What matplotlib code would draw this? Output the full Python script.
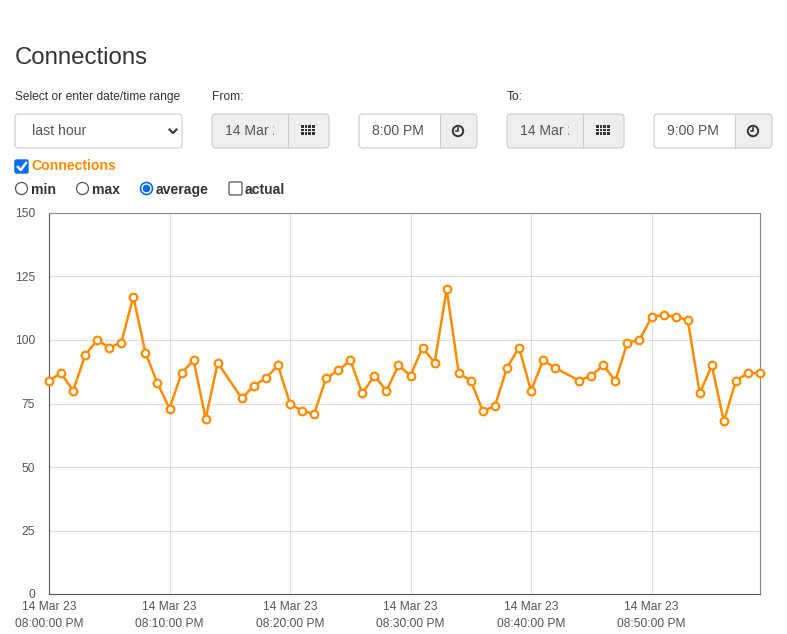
import numpy as np
import matplotlib.pyplot as plt
from matplotlib.patches import FancyBboxPatch, Rectangle, Circle
from matplotlib.lines import Line2D

# minutes after 8:00 PM (two missing samples: 15 and 43)
minutes = [0, 1, 2, 3, 4, 5, 6, 7, 8, 9, 10, 11, 12, 13, 14,
           16, 17, 18, 19, 20, 21, 22, 23, 24, 25, 26, 27, 28, 29,
           30, 31, 32, 33, 34, 35, 36, 37, 38, 39, 40, 41, 42,
           44, 45, 46, 47, 48, 49, 50, 51, 52, 53, 54, 55, 56, 57, 58, 59]
connections = [84, 87, 80, 94, 100, 97, 99, 117, 95, 83, 73, 87, 92, 69, 91,
               77, 82, 85, 90, 75, 72, 71, 85, 88, 92, 79, 86, 80, 90,
               86, 97, 91, 120, 87, 84, 72, 74, 89, 97, 80, 92, 89,
               84, 86, 90, 84, 99, 100, 109, 110, 109, 108, 79, 90, 68, 84, 87, 87]
y_ticks = [0, 25, 50, 75, 100, 125, 150]
x_ticks = [0, 10, 20, 30, 40, 50]
x_labels = ['14 Mar 23\n08:00:00 PM', '14 Mar 23\n08:10:00 PM', '14 Mar 23\n08:20:00 PM',
            '14 Mar 23\n08:30:00 PM', '14 Mar 23\n08:40:00 PM', '14 Mar 23\n08:50:00 PM']

W, H = 787, 634
PX = 0.72  # points per pixel at dpi 100
plt.rcParams['font.family'] = ['Liberation Sans', 'DejaVu Sans']
TXT = '#333333'

fig = plt.figure(figsize=(W / 100, H / 100), dpi=100)

# page overlay in pixel coordinates
ui = fig.add_axes([0, 0, 1, 1])
ui.set_xlim(0, W)
ui.set_ylim(H, 0)
ui.axis('off')


def box(x0, x1, y0, y1, fc='white', ec='#cccccc', r=4, lw=0.8):
    p = FancyBboxPatch((x0 + r, y0 + r), x1 - x0 - 2 * r, y1 - y0 - 2 * r,
                       boxstyle='round,pad=%d' % r, fc=fc, ec=ec, lw=lw)
    ui.add_patch(p)
    return p


def grid_icon(cx, cy):
    for i in range(4):
        for j in range(3):
            ui.add_patch(Rectangle((cx - 7 + i * 3.7, cy - 5 + j * 3.6), 2.6, 2.6,
                                   fc='#333333', ec='none'))


def clock_icon(cx, cy):
    ui.add_patch(Circle((cx, cy), 5.2, fc='none', ec='#333333', lw=1.4))
    ui.add_line(Line2D([cx, cx, cx - 2.5], [cy - 3, cy, cy], color='#333333', lw=1.2))


ui.text(15, 58, 'Connections', fontsize=24 * PX, color=TXT, va='center', ha='left')
ui.text(15, 97, 'Select or enter date/time range', fontsize=12 * PX, color=TXT, va='center')
ui.text(212, 97, 'From:', fontsize=12 * PX, color=TXT, va='center')
ui.text(507, 97, 'To:', fontsize=12 * PX, color=TXT, va='center')

# range select
box(15, 182, 114, 148)
ui.text(32, 131, 'last hour', fontsize=14 * PX, color='#555555', va='center')
ui.add_line(Line2D([169.5, 173, 176.5], [129.5, 133, 129.5], color='#333333', lw=1.5))

# from / to date and time inputs
for x0, date_txt, t0, time_txt in [(212, '14 Mar 2', 359, '8:00 PM'), (507, '14 Mar 2', 654, '9:00 PM')]:
    box(x0, x0 + 117, 114, 148, fc='#eeeeee')
    ui.add_line(Line2D([x0 + 76, x0 + 76], [114.5, 147.5], color='#cccccc', lw=0.8))
    clip = Rectangle((x0, 114), 62, 34, transform=ui.transData)
    t = ui.text(x0 + 13, 131, date_txt, fontsize=14 * PX, color='#555555', va='center')
    t.set_clip_on(True)
    t.set_clip_path(clip)
    grid_icon(x0 + 96, 130)
    box(t0, t0 + 118, 114, 148, fc='#eeeeee')
    box(t0 + 0.8, t0 + 86, 114.8, 147.2, fc='white', ec='none', r=3)
    ui.add_patch(Rectangle((t0 + 81, 115), 8, 32, fc='#eeeeee', ec='none'))
    ui.add_line(Line2D([t0 + 81, t0 + 81], [114.5, 147.5], color='#cccccc', lw=0.8))
    ui.text(t0 + 13, 131, time_txt, fontsize=14 * PX, color='#555555', va='center')
    clock_icon(t0 + 99, 131)

# series checkbox
ui.add_patch(FancyBboxPatch((16.5, 161.5), 10, 10, boxstyle='round,pad=1.5', fc='#0b6cf0', ec='#0b6cf0'))
ui.add_line(Line2D([18, 20.8, 26], [167, 170, 163], color='white', lw=1.8))
ui.text(31, 166, 'Connections', fontsize=14 * PX, color='#ff8c00', fontweight='bold', va='center')

# aggregation options
ui.add_patch(Circle((21.5, 188.5), 6, fc='white', ec='#555555', lw=0.9))
ui.text(31, 190, 'min', fontsize=14 * PX, color=TXT, fontweight='bold', va='center')
ui.add_patch(Circle((82.5, 188.5), 6, fc='white', ec='#555555', lw=0.9))
ui.text(92, 190, 'max', fontsize=14 * PX, color=TXT, fontweight='bold', va='center')
ui.add_patch(Circle((146.5, 188.5), 6, fc='white', ec='#0b6cf0', lw=1.2))
ui.add_patch(Circle((146.5, 188.5), 3.8, fc='#0b6cf0', ec='none'))
ui.text(156, 190, 'average', fontsize=14 * PX, color=TXT, fontweight='bold', va='center')
ui.add_patch(FancyBboxPatch((230.5, 183.5), 10, 10, boxstyle='round,pad=1.5', fc='white', ec='#555555', lw=0.9))
ui.text(245, 190, 'actual', fontsize=14 * PX, color=TXT, fontweight='bold', va='center')

# chart
left, right, top, bottom = 49, 760, 213, 594
ax = fig.add_axes([left / W, (H - bottom) / H, (right - left) / W, (bottom - top) / H])
ax.plot(minutes, connections, color='#ff8c00', lw=1.8, marker='o', ms=5.5,
        mfc='white', mec='#ff8c00', mew=1.6, clip_on=False, zorder=3)
ax.set_xlim(0, 59)
ax.set_ylim(0, 150)
ax.set_yticks(y_ticks)
ax.set_xticks(x_ticks)
ax.set_xticklabels(x_labels, linespacing=1.6)
ax.grid(True, color='#dddddd', lw=0.8)
ax.set_axisbelow(True)
for s in ax.spines.values():
    s.set_color('#888888')
    s.set_linewidth(0.8)
ax.spines['left'].set_color('#555555')
ax.spines['bottom'].set_color('#555555')
ax.tick_params(length=0, labelsize=12 * PX, labelcolor='#555555', pad=5)
for lbl in ax.get_xticklabels() + ax.get_yticklabels():
    lbl.set_family(['Liberation Sans Narrow', 'Liberation Sans', 'DejaVu Sans'])
ax.tick_params(axis='y', pad=10)

fig.savefig('out.png', dpi=100)
